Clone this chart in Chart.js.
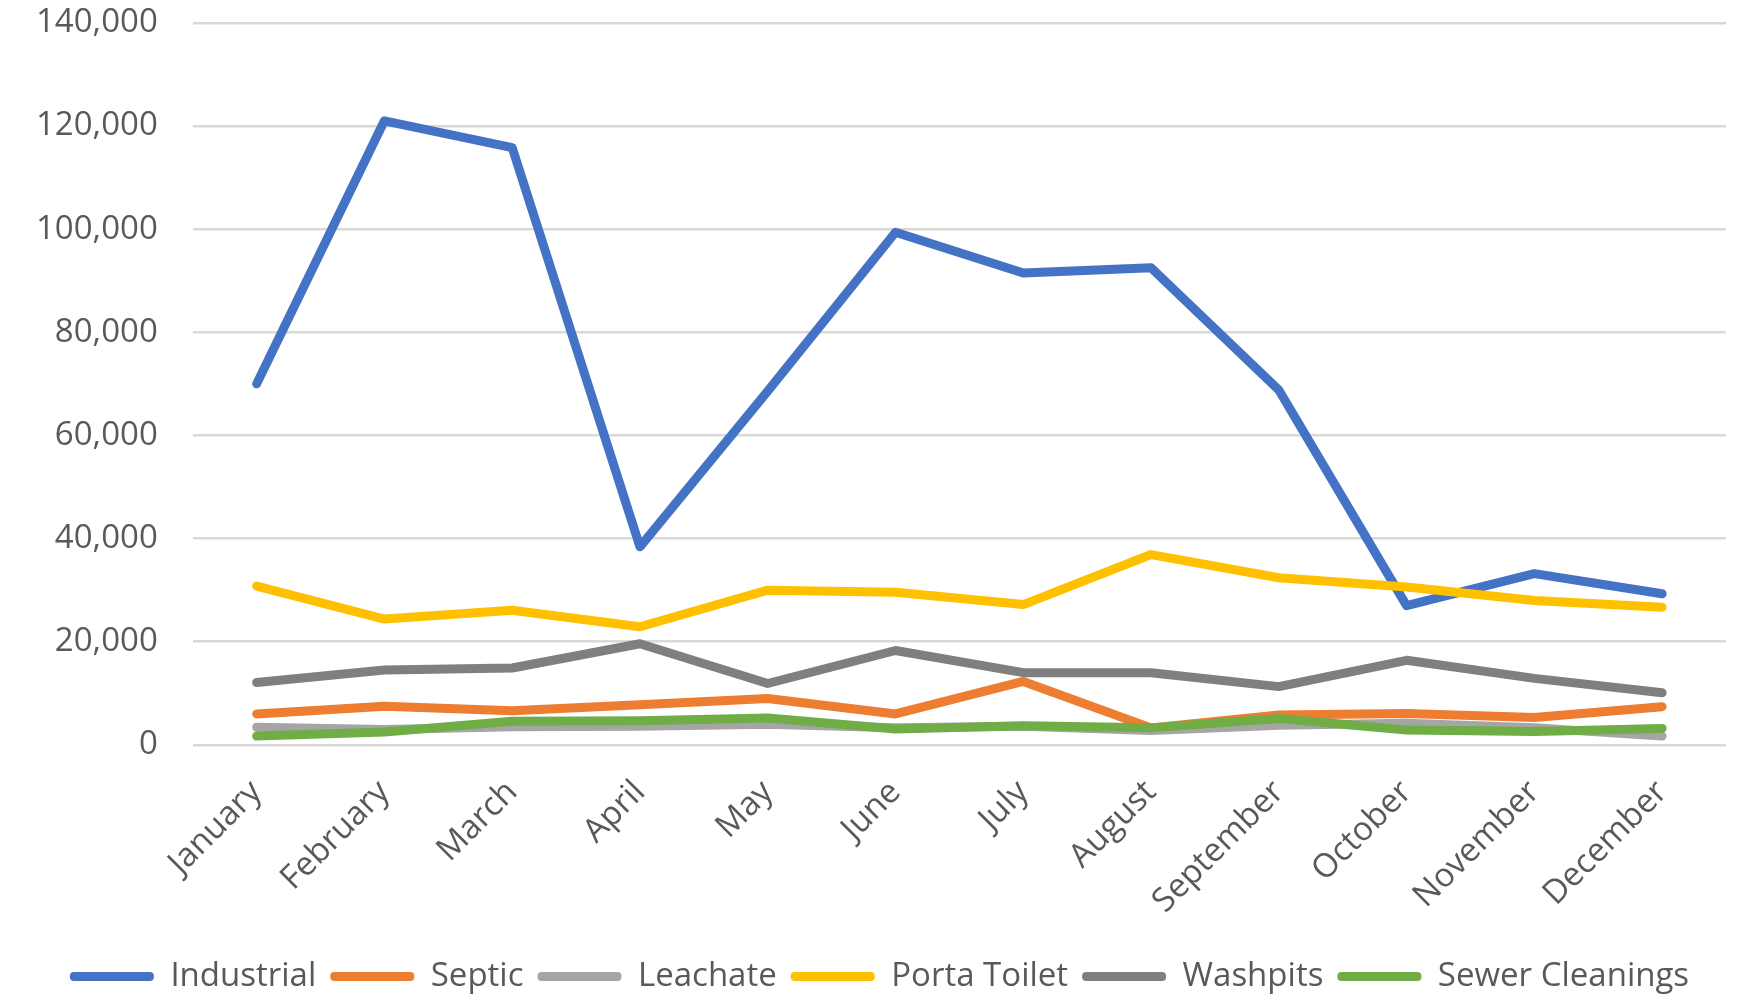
<!DOCTYPE html>
<html>
<head>
<meta charset="utf-8">
<script src="https://cdn.jsdelivr.net/npm/chart.js@4/dist/chart.umd.min.js"></script>
<style>
  html, body { margin: 0; padding: 0; background: #fff; }
  #wrap { width: 1740px; height: 997px; }
</style>
</head>
<body>
<div id="wrap"><canvas id="chart1"></canvas></div>
<script>
var months = ["January", "February", "March", "April", "May", "June",
  "July", "August", "September", "October", "November", "December"];

var industrial = [70000, 121000, 115800, 38400, 68600, 99400, 91500, 92500, 68800, 27000, 33200, 29300];
var septic = [6000, 7500, 6600, 7800, 9000, 6000, 12300, 3300, 5800, 6100, 5300, 7400];
var leachate = [3400, 3000, 3500, 3600, 4000, 3300, 3600, 2800, 3800, 4200, 3300, 1700];
var portaToilet = [30800, 24400, 26100, 22900, 30000, 29600, 27200, 36900, 32400, 30600, 28000, 26700];
var washpits = [12100, 14500, 14900, 19600, 11900, 18300, 14000, 14000, 11300, 16400, 12900, 10100];
var sewerCleanings = [1700, 2500, 4600, 4700, 5200, 3100, 3700, 3300, 5100, 2900, 2600, 3200];

var yTicks = [0, 20000, 40000, 60000, 80000, 100000, 120000, 140000];

(function(){
  'use strict';

  var series = [
    { label: "Industrial", data: industrial, color: "#4472C4" },
    { label: "Septic", data: septic, color: "#ED7D31" },
    { label: "Leachate", data: leachate, color: "#A5A5A5" },
    { label: "Porta Toilet", data: portaToilet, color: "#FFC000" },
    { label: "Washpits", data: washpits, color: "#7F7F7F" },
    { label: "Sewer Cleanings", data: sewerCleanings, color: "#70AD47" }
  ];

  var font = { family: "'Open Sans', 'Noto Sans', sans-serif", size: 33 };
  var textColor = "#595959";

  // later series sit on top, like the original
  var datasets = series.map(function(s, i) {
    return {
      label: s.label,
      data: s.data,
      borderColor: s.color,
      backgroundColor: s.color,
      borderWidth: 9,
      borderJoinStyle: 'round',
      borderCapStyle: 'round',
      pointRadius: 0,
      tension: 0,
      order: series.length - i
    };
  });

  var c1 = document.getElementById('chart1');

  var chart1 = new Chart(c1, {
    type: 'line',
    data: {
      labels: months,
      datasets: datasets
    },
    options: {
      responsive: true,
      maintainAspectRatio: false,
      animation: false,
      layout: {
        padding: { left: 33, right: 14, top: 3, bottom: -6 }
      },
      plugins: {
        tooltip: { enabled: false },
        legend: {
          position: 'bottom',
          labels: {
            font: font,
            color: textColor,
            boxWidth: 84,
            boxHeight: 9,
            padding: 14,
            useBorderRadius: true,
            borderRadius: 4,
            sort: function(a, b) { return a.datasetIndex - b.datasetIndex; },
            generateLabels: function(chart) {
              var items = Chart.defaults.plugins.legend.labels.generateLabels(chart);
              items.forEach(function(it) { it.lineWidth = 0; });
              return items;
            }
          }
        }
      },
      scales: {
        x: {
          offset: true,
          grid: { display: false },
          border: { display: false },
          ticks: {
            font: font,
            color: textColor,
            minRotation: 45,
            maxRotation: 45,
            padding: 20
          },
          afterFit: function(axis) {
            axis.height += 5;
          }
        },
        y: {
          min: 0,
          max: yTicks[yTicks.length - 1],
          afterBuildTicks: function(axis) {
            axis.ticks = yTicks.map(function(v) { return { value: v }; });
          },
          grid: {
            color: "#D9D9D9",
            lineWidth: 2.5,
            drawTicks: true,
            tickLength: 32,
            tickColor: 'rgba(0,0,0,0)'
          },
          border: { display: false },
          ticks: {
            font: font,
            color: textColor,
            padding: 3,
            callback: function(v) { return v.toLocaleString('en-US'); }
          }
        }
      }
    }
  });
}());
</script>
</body>
</html>
